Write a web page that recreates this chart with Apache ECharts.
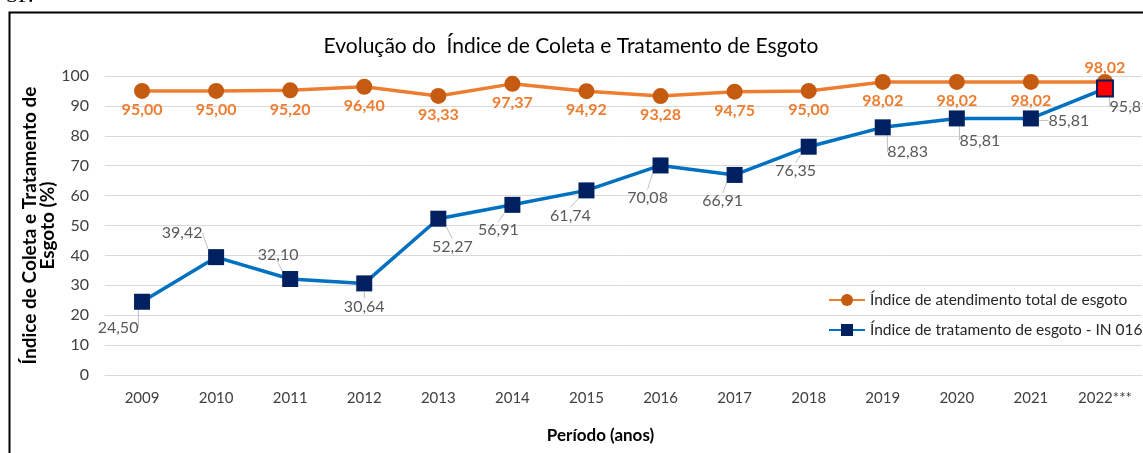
<!DOCTYPE html>
<html>
<head>
<meta charset="utf-8">
<script src="https://cdn.jsdelivr.net/npm/echarts@6/dist/echarts.min.js"></script>
<style>
  html, body { margin: 0; padding: 0; background: #fff; }
  #chart { width: 1143px; height: 453px; }
</style>
</head>
<body>
<div id="chart"></div>
<script>
// dados
const anos = ['2009', '2010', '2011', '2012', '2013', '2014', '2015', '2016', '2017', '2018', '2019', '2020', '2021', '2022***']
const atendimento = [95.00, 95.00, 95.20, 96.40, 93.33, 97.37, 94.92, 93.28, 94.75, 95.00, 98.02, 98.02, 98.02, 98.02]
const tratamento = [24.50, 39.42, 32.10, 30.64, 52.27, 56.91, 61.74, 70.08, 66.91, 76.35, 82.83, 85.81, 85.81, 95.81]
const yTicks = [0, 10, 20, 30, 40, 50, 60, 70, 80, 90, 100]

// deslocamento dos rótulos da série azul (em px, relativo ao ponto)
const azulDx = [-24, -34, -12, 0, 14, -14, -16, -13, -12, -13, 25, 23, 38, 25]
const azulDy = [26, -24, -24, 23, 28, 25, 25, 32, 26, 24, 25, 22, 2, 18]

const FONT = 'Lato, "Noto Sans", sans-serif'
const fmt = v => v.toFixed(2).replace('.', ',')

const chart = echarts.init(document.getElementById('chart'))

chart.setOption({
  animation: false,
  textStyle: { fontFamily: FONT },
  title: {
    text: 'Evolução do  Índice de Coleta e Tratamento de Esgoto',
    left: 566,
    textAlign: 'center',
    top: 31,
    textStyle: { fontSize: 21, fontWeight: 'normal', color: '#000', fontFamily: FONT }
  },
  graphic: [
    {
      type: 'rect',
      shape: { x: 9.5, y: 12.5, width: 1200, height: 500 },
      style: { fill: 'none', stroke: '#000', lineWidth: 2 },
      silent: true
    },
    {
      type: 'text',
      left: 6,
      top: -15,
      style: { text: 'SP.', font: '22px "Liberation Serif", serif', fill: '#000' }
    }
  ],
  legend: {
    orient: 'vertical',
    left: 823,
    top: 287,
    itemGap: 14,
    itemWidth: 36,
    itemHeight: 15,
    textStyle: { fontSize: 15.5, color: '#262626', fontFamily: FONT },
    data: ['Índice de atendimento total de esgoto', 'Índice de tratamento de esgoto - IN 016']
  },
  grid: { left: 105, right: 1, top: 76, bottom: 78 },
  xAxis: {
    type: 'category',
    data: anos,
    boundaryGap: true,
    axisLine: { show: true, lineStyle: { color: '#D9D9D9' } },
    axisTick: { show: false },
    axisLabel: { color: '#404040', fontSize: 15, margin: 16 },
    name: 'Período (anos)',
    nameLocation: 'middle',
    nameGap: 52,
    nameMoveOverlap: false,
    nameTextStyle: { fontSize: 17, fontWeight: 'bold', color: '#000', padding: [0, 0, 0, -46] }
  },
  yAxis: {
    type: 'value',
    min: yTicks[0],
    max: yTicks[yTicks.length - 1],
    interval: 10,
    axisLine: { show: false },
    axisTick: { show: false },
    splitLine: { lineStyle: { color: '#D9D9D9' } },
    axisLabel: { color: '#404040', fontSize: 16, margin: 16 },
    name: 'Índice de Coleta e Tratamento de\nEsgoto (%)',
    nameLocation: 'middle',
    nameGap: 48,
    nameMoveOverlap: false,
    nameTextStyle: { fontSize: 19, fontWeight: 'bold', color: '#000', lineHeight: 18 }
  },
  series: [
    {
      name: 'Índice de atendimento total de esgoto',
      type: 'line',
      data: atendimento.map((v, i) => ({
        value: v,
        label: i === atendimento.length - 1 ? { position: 'top', distance: -2 } : undefined
      })),
      symbol: 'circle',
      symbolSize: 16,
      lineStyle: { color: '#ED7D31', width: 3.5 },
      itemStyle: { color: '#C55A11' },
      label: {
        show: true,
        position: 'bottom',
        distance: 3,
        color: '#ED7D31',
        fontWeight: 'bold',
        fontSize: 16,
        formatter: p => fmt(p.value)
      },
      z: 2
    },
    {
      name: 'Índice de tratamento de esgoto - IN 016',
      type: 'line',
      data: tratamento.map((v, i) => ({
        value: v,
        itemStyle: i === tratamento.length - 1 ? { color: '#FF0000', borderColor: '#002060', borderWidth: 2 } : undefined
      })),
      symbol: 'rect',
      symbolSize: 16,
      lineStyle: { color: '#0070C0', width: 3.5 },
      itemStyle: { color: '#002060' },
      label: {
        show: true,
        position: 'inside',
        color: '#595959',
        fontSize: 16,
        formatter: p => fmt(p.value)
      },
      labelLayout: p => ({ dx: azulDx[p.dataIndex], dy: azulDy[p.dataIndex] }),
      labelLine: { show: true, lineStyle: { color: '#BFBFBF', width: 1 } },
      z: 3
    }
  ]
})
</script>
</body>
</html>
